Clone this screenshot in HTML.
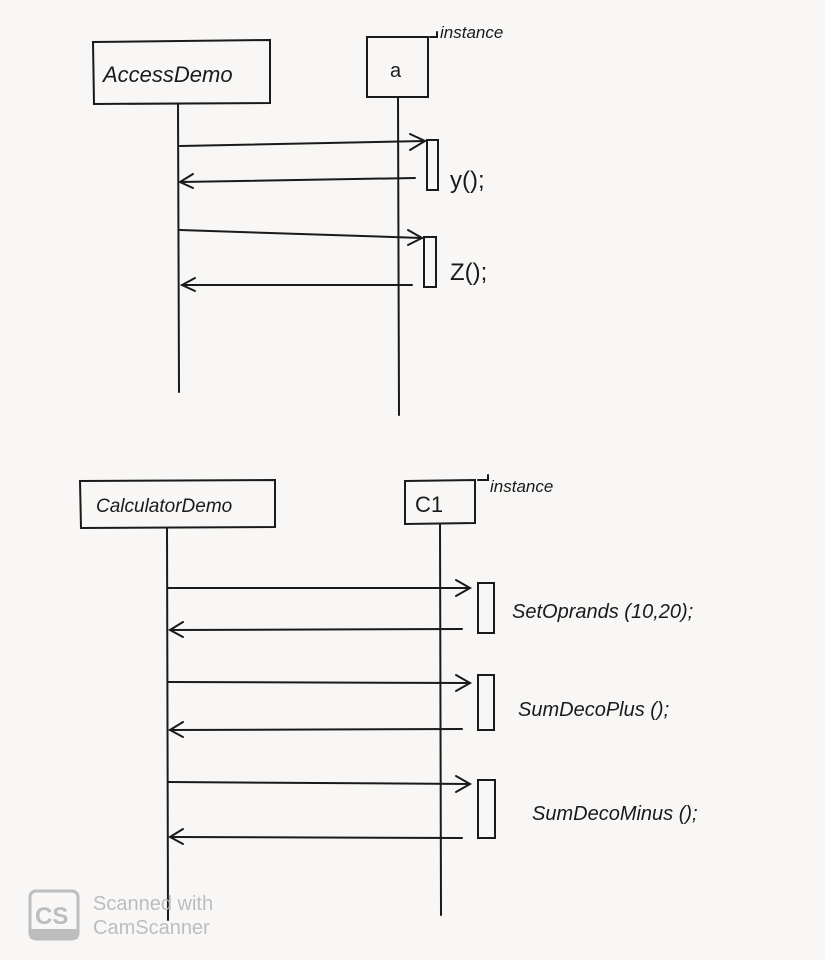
<!DOCTYPE html>
<html><head><style>
html,body{margin:0;padding:0;background:#f8f7f6;}
svg{display:block}
text{font-family:"Liberation Sans",sans-serif;fill:#1a1a1a}
</style></head><body>
<svg width="825" height="960" xmlns="http://www.w3.org/2000/svg">
<rect width="825" height="960" fill="#f8f7f6"/>
<g stroke="#1a1a1a" stroke-width="2" fill="none" stroke-linecap="round">
<!-- top -->
<path d="M93 42 L270 40 L270 103 L94 104 Z"/>
<path d="M367 37 L428 37 L428 97 L367 97 Z"/>
<path d="M430 37 L437 37 L437 32"/>
<line x1="178" y1="104" x2="179" y2="392"/>
<line x1="398" y1="97" x2="399" y2="415"/>
<rect x="427" y="140" width="11" height="50"/>
<rect x="424" y="237" width="12" height="50"/>
<path d="M180 146 L425 141"/><path d="M410 134 L425 141 L410 150"/>
<path d="M415 178 L180 182"/><path d="M193 174 L180 182 L193 188"/>
<path d="M180 230 L422 238"/><path d="M408 230 L422 238 L408 245"/>
<path d="M412 285 L182 285"/><path d="M195 278 L182 285 L195 291"/>
<!-- bottom -->
<path d="M80 481 L275 480 L275 527 L81 528 Z"/>
<path d="M405 481 L475 480 L475 523 L405 524 Z"/>
<path d="M478 480 L488 480 L488 475"/>
<line x1="167" y1="528" x2="168" y2="920"/>
<line x1="440" y1="524" x2="441" y2="915"/>
<rect x="478" y="583" width="16" height="50"/>
<rect x="478" y="675" width="16" height="55"/>
<rect x="478" y="780" width="17" height="58"/>
<path d="M168 588 L470 588"/><path d="M456 580 L470 588 L456 596"/>
<path d="M462 629 L170 630"/><path d="M183 622 L170 630 L183 637"/>
<path d="M168 682 L470 683"/><path d="M456 675 L470 683 L456 691"/>
<path d="M462 729 L170 730"/><path d="M183 722 L170 730 L183 737"/>
<path d="M168 782 L470 784"/><path d="M456 776 L470 784 L456 792"/>
<path d="M462 838 L170 837"/><path d="M183 829 L170 837 L183 844"/>
</g>
<text x="103" y="82" font-size="22" font-style="italic">AccessDemo</text>
<text x="390" y="77" font-size="20">a</text>
<text x="440" y="38" font-size="17" font-style="italic">instance</text>
<text x="450" y="188" font-size="24">y();</text>
<text x="450" y="280" font-size="24">Z();</text>
<text x="96" y="512" font-size="19" font-style="italic">CalculatorDemo</text>
<text x="415" y="512" font-size="22">C1</text>
<text x="490" y="492" font-size="17" font-style="italic">instance</text>
<text x="512" y="618" font-size="20" font-style="italic">SetOprands (10,20);</text>
<text x="518" y="716" font-size="20" font-style="italic">SumDecoPlus ();</text>
<text x="532" y="820" font-size="20" font-style="italic">SumDecoMinus ();</text>
<rect x="30" y="891" width="48" height="48" rx="6" fill="none" stroke="#bdbdbd" stroke-width="3"/>
<rect x="30" y="929" width="48" height="10" fill="#bdbdbd"/>
<text x="35" y="924" font-size="24" font-weight="bold" style="fill:#bdbdbd">CS</text>
<text x="93" y="910" font-size="20" style="fill:#bdbdbd">Scanned with</text>
<text x="93" y="934" font-size="20" style="fill:#bdbdbd">CamScanner</text>
</svg>
</body></html>
